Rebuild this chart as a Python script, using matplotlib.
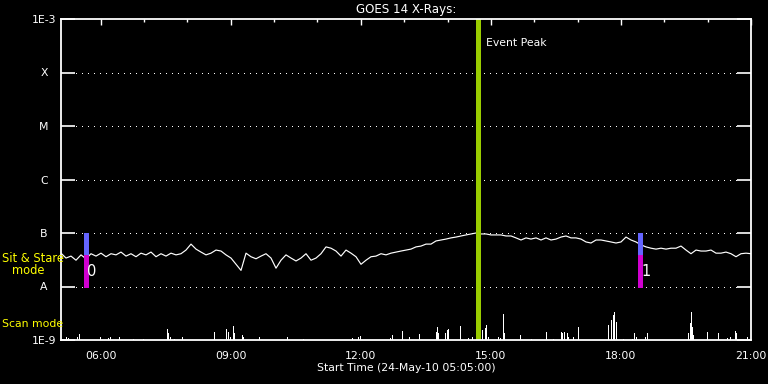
import matplotlib
matplotlib.use('Agg')
import matplotlib.pyplot as plt
import numpy as np

# time axis in decimal hours (start 05:05 UT)
T_START = 5 + 5 / 60
T_END = 21.0

# GOES 14 long channel flux, units of 1e-8 W/m^2, evenly sampled over the window
flux = [4.2, 3.4, 3.7, 3.1, 3.9, 3.3, 4.1, 3.7, 4.2, 3.6,
        4.1, 3.9, 4.4, 3.7, 4.1, 3.6, 4.2, 3.9, 4.4, 3.6,
        4.1, 3.7, 4.2, 3.9, 4.1, 4.8, 6.2, 5.0, 4.4, 3.9,
        4.2, 4.8, 4.6, 3.9, 3.4, 2.6, 2.0, 4.2, 3.6, 3.3,
        3.7, 4.1, 3.4, 2.2, 3.1, 3.9, 3.4, 3.0, 3.4, 4.1,
        3.1, 3.4, 4.1, 5.5, 5.2, 4.6, 3.7, 4.8, 4.2, 3.6,
        2.6, 3.1, 3.6, 3.7, 4.1, 3.9, 4.2, 4.4, 4.6, 4.8,
        5.0, 5.5, 5.7, 6.2, 6.2, 7.1, 7.4, 7.7, 8.1, 8.4,
        8.8, 9.2, 9.6, 10.0, 9.6, 9.6, 9.2, 9.2, 9.2, 8.8,
        8.8, 8.1, 7.4, 8.1, 7.7, 8.1, 7.4, 8.1, 7.4, 7.7,
        8.4, 8.8, 8.1, 8.1, 7.7, 6.8, 6.5, 7.4, 7.4, 7.1,
        6.8, 6.5, 6.8, 8.4, 7.4, 6.8, 6.0, 5.5, 5.2, 5.0,
        5.2, 5.0, 5.2, 5.2, 5.7, 4.8, 4.1, 4.8, 4.6, 4.6,
        4.8, 4.2, 4.2, 4.4, 4.1, 3.6, 4.1, 4.2, 4.1]

# scan mode samples: time (h) and level (units of 1e-9)
scan_t = [5.21, 5.25, 5.45, 5.51, 5.98, 6.17, 6.21, 6.43, 6.75, 6.98,
          7.52, 7.56, 7.60, 7.69, 7.87, 8.61, 8.88, 8.93, 8.98, 9.06,
          9.08, 9.25, 9.29, 9.65, 10.29, 10.67, 11.79, 11.94, 11.98, 12.67,
          12.71, 12.94, 13.10, 13.35, 13.73, 13.75, 13.77, 13.93, 13.98, 14.02,
          14.29, 14.48, 14.56, 14.75, 14.79, 14.86, 14.89, 14.93, 15.17, 15.21,
          15.29, 15.31, 15.66, 15.93, 16.26, 16.44, 16.62, 16.65, 16.69, 16.75,
          16.79, 16.90, 17.02, 17.71, 17.77, 17.82, 17.85, 17.88, 18.05, 18.25,
          18.31, 18.34, 18.55, 18.59, 19.55, 19.59, 19.62, 19.65, 19.67, 19.98,
          20.25, 20.44, 20.52, 20.62, 20.65, 20.90]
scan_v = [1.12, 1.08, 1.15, 1.29, 1.15, 1.08, 1.15, 1.15, 1.03, 1.03,
          1.58, 1.33, 1.15, 1.03, 1.15, 1.39, 1.58, 1.43, 1.15, 1.85,
          1.33, 1.24, 1.15, 1.15, 1.12, 1.03, 1.08, 1.15, 1.20, 1.08,
          1.24, 1.45, 1.12, 1.29, 1.43, 1.77, 1.33, 1.33, 1.54, 1.58,
          1.83, 1.08, 1.12, 1.33, 1.54, 1.65, 1.91, 1.15, 1.12, 1.08,
          3.02, 1.33, 1.24, 1.03, 1.43, 1.03, 1.43, 1.33, 1.43, 1.33,
          1.12, 1.15, 1.77, 1.91, 2.36, 2.93, 3.38, 2.20, 1.03, 1.03,
          1.33, 1.15, 1.15, 1.33, 1.33, 2.05, 3.38, 1.77, 1.24, 1.43,
          1.37, 1.08, 1.15, 1.47, 1.33, 1.15]

# sit & stare pointing changes
marker_t = [5.66, 18.44]
marker_lbl = ['0', '1']
marker_split = [3.8e-8, 3.8e-8]

peak_t = 14.70

hour_ticks = [6, 9, 12, 15, 18, 21]
hour_lbls = ['06:00', '09:00', '12:00', '15:00', '18:00', '21:00']
class_levels = [1e-9, 1e-8, 1e-7, 1e-6, 1e-5, 1e-4, 1e-3]
class_lbls = ['1E-9', 'A', 'B', 'C', 'M', 'X', '1E-3']

FS = 7.8
PX = 0.72  # one pixel in points
fig = plt.figure(figsize=(7.68, 3.84), dpi=100, facecolor='black')
ax = fig.add_axes([61 / 768, 1 - 340 / 384, 690 / 768, 321 / 384], facecolor='black')

ax.set_yscale('log')
ax.set_xlim(T_START, T_END)
ax.set_ylim(1e-9, 1e-3)

# dotted class lines between the inner tick marks
for lev in class_levels[1:-1]:
    ax.plot([0.022, 0.979], [lev, lev], transform=ax.get_yaxis_transform(),
            color='white', lw=PX, linestyle=(0, (1, 5.7)), antialiased=False)

flux_t = np.linspace(T_START, T_END, len(flux))
ax.plot(flux_t, np.array(flux) * 1e-8, color='white', lw=0.85)

ax.vlines(scan_t, 1e-9, np.array(scan_v) * 1e-9, color='white', lw=PX,
          antialiased=False)

ax.axvline(peak_t, color='#9acd00', lw=2.2, antialiased=False)
ax.annotate('Event Peak', xy=(peak_t, 1), xycoords=ax.get_xaxis_transform(),
            xytext=(8, -24), textcoords='offset pixels', color='white',
            fontsize=FS, va='center', ha='left')

for t, lbl, split in zip(marker_t, marker_lbl, marker_split):
    ax.plot([t, t], [1e-7, split], color='#6464ff', lw=2.2, solid_capstyle='butt',
            antialiased=False)
    ax.plot([t, t], [split, 1e-8], color='#d000d0', lw=2.2, solid_capstyle='butt',
            antialiased=False)
    ax.annotate(lbl, xy=(t, 1.9e-8), xytext=(1, 0), textcoords='offset pixels',
                color='white', fontsize=10.5, va='center', ha='left')

ax.set_yticks(class_levels)
ax.set_yticklabels(class_lbls)
ax.yaxis.set_minor_locator(matplotlib.ticker.NullLocator())
ax.tick_params(axis='y', which='major', direction='in', length=10, width=1.2,
               colors='white', left=True, right=True, labelsize=FS, pad=12.2)
for lab in ax.get_yticklabels():
    lab.set_horizontalalignment('center')

ax.set_xticks(hour_ticks)
ax.set_xticklabels(hour_lbls)
ax.set_xticks(np.arange(6, 21), minor=True)
ax.tick_params(axis='x', which='major', direction='in', length=4.3, width=1,
               colors='white', bottom=False, top=True, labelbottom=True,
               labelsize=FS, pad=8)
ax.tick_params(axis='x', which='minor', direction='in', length=2.2, width=1,
               colors='white', bottom=False, top=True)

for sp in ax.spines.values():
    sp.set_color('white')
    sp.set_linewidth(1.3)

fig.text(406 / 768, 1 - 9 / 384, 'GOES 14 X-Rays:', color='white', fontsize=8.6,
         ha='center', va='center')
fig.text(406 / 768, 1 - 368 / 384, 'Start Time (24-May-10 05:05:00)', color='white',
         fontsize=FS, ha='center', va='center')

yel = '#ffff00'
fig.text(2 / 768, 1 - 258 / 384, 'Sit & Stare', color=yel, fontsize=8.3, ha='left', va='center')
fig.text(12 / 768, 1 - 271 / 384, 'mode', color=yel, fontsize=8.3, ha='left', va='center')
fig.text(2 / 768, 1 - 324 / 384, 'Scan mode', color=yel, fontsize=7.8, ha='left', va='center')

fig.savefig('out.png', dpi=100, facecolor='black')
